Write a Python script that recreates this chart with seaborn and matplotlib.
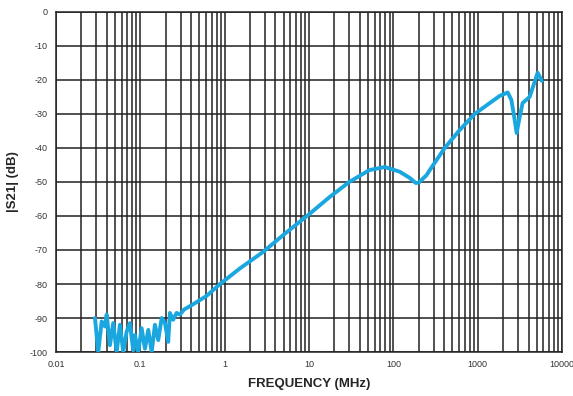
# |S21| vs frequency, log x axis
import matplotlib
import numpy as np
import pandas as pd
import seaborn as sns

matplotlib.use("Agg")
import matplotlib.pyplot as plt
from matplotlib.ticker import FixedLocator, FixedFormatter, NullFormatter

freq_mhz = [
    0.0290, 0.0317, 0.0348, 0.0381, 0.0399, 0.0436, 0.0477, 0.0524, 0.0573,
    0.0627, 0.0688, 0.0752, 0.0823, 0.0862, 0.0944, 0.1036, 0.1134, 0.1242,
    0.1362, 0.149, 0.163, 0.179, 0.196, 0.214, 0.224, 0.245, 0.269, 0.294,
    0.33, 0.42, 0.61, 0.88, 1.5, 2.84, 5.0, 10, 17.6, 30, 52, 79, 119, 156,
    184, 200, 247, 270, 406, 612, 921, 1300, 1820, 2265, 2505, 2742, 2890,
    3148, 3400, 4120, 5130, 5750,
]
s21_db = [
    -90, -100, -91, -92.5, -89, -98, -91.5, -100, -92,
    -100, -94, -91.5, -99.5, -95, -100, -93, -99, -93.5,
    -100, -92, -96.5, -90, -91.5, -97, -88.5, -90.5, -88.5, -89,
    -87.5, -86, -83.5, -80, -75.5, -70.6, -65.5, -59.5, -54.4, -50, -46.5, -45.6, -47, -48.8,
    -50.3, -50.2, -48, -46.5, -40, -34.7, -30, -27.3, -24.7, -23.7, -25.9, -31.8, -35.6,
    -30.8, -26.8, -25, -17.9, -20.3,
]

x_ticks = [0.01, 0.1, 1, 10, 100, 1000, 10000]
x_labels = ["0.01", "0.1", "1", "10", "100", "1000", "10000"]
y_ticks = list(range(-100, 1, 10))

df = pd.DataFrame({"freq": freq_mhz, "s21": s21_db})

sns.set_style("white")
plt.rcParams["font.family"] = ["Liberation Sans", "DejaVu Sans"]

fig = plt.figure(figsize=(5.73, 3.96), dpi=100)
ax = fig.add_axes([0.0977, 0.111, 0.8833, 0.859])

sns.lineplot(data=df, x="freq", y="s21", color="#1aa7e0", linewidth=2.8,
             sort=False, estimator=None, ax=ax, zorder=3)

ax.set_xscale("log")
ax.set_xlim(0.01, 10000)
ax.set_ylim(-100, 0)

ax.xaxis.set_major_locator(FixedLocator(x_ticks))
ax.xaxis.set_major_formatter(FixedFormatter(x_labels))
minor = [m * d for d in x_ticks[:-1] for m in range(2, 10)]
ax.xaxis.set_minor_locator(FixedLocator(minor))
ax.xaxis.set_minor_formatter(NullFormatter())
ax.set_yticks(y_ticks)
ax.set_yticklabels([str(v) for v in y_ticks])

ax.grid(True, which="both", axis="x", color="#222222", linewidth=1.1)
ax.grid(True, which="major", axis="y", color="#222222", linewidth=1.1)

for s in ax.spines.values():
    s.set_color("#222222")
    s.set_linewidth(1.1)

ax.tick_params(which="major", direction="inout", length=6, width=1,
               color="#222222", labelsize=6.5, labelcolor="#333333", pad=3)
ax.tick_params(which="minor", length=0)

ax.set_xlabel("FREQUENCY (MHz)", fontsize=9.5, fontweight="bold", labelpad=6)
ax.set_ylabel("|S21| (dB)", fontsize=9.5, fontweight="bold", labelpad=8)

plt.savefig("out.png", dpi=100)
